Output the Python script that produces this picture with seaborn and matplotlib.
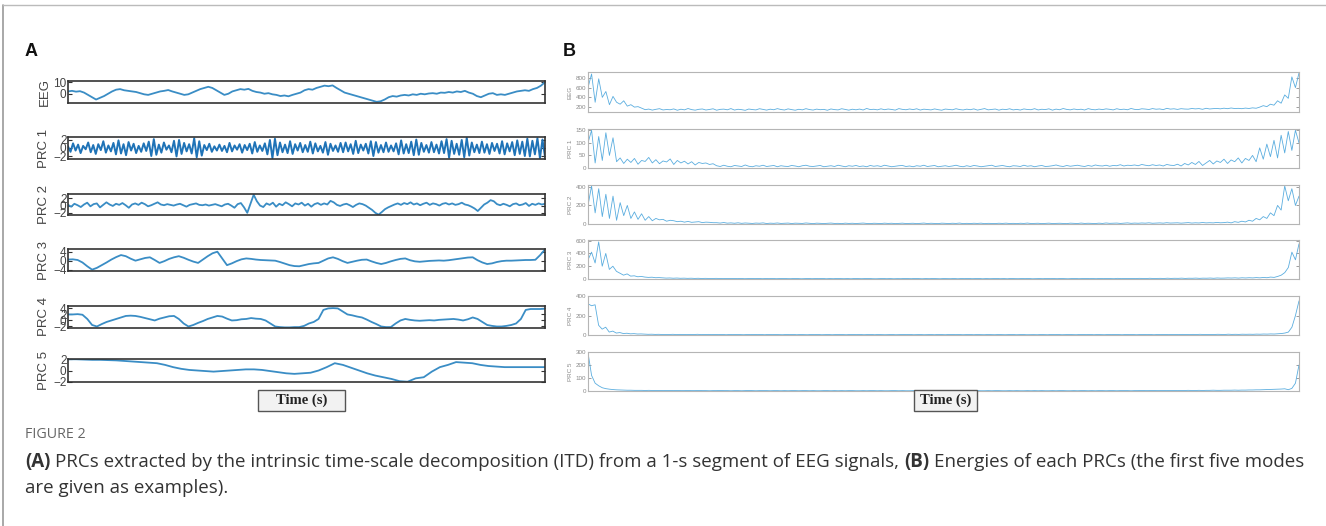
import numpy as np
import matplotlib
matplotlib.use("Agg")
import matplotlib.pyplot as plt
from matplotlib.lines import Line2D
from matplotlib.patches import Rectangle
import seaborn as sns

# ---- panel A: PRC signals ----
eeg_a = [2, 2.5, 1.8, 2.2, 1, -1, -3, -5,
         -3.5, -2, 0, 2, 3.5, 4,
         3, 2.5, 2, 1.5,
         0.5, -0.5, -1, 0,
         1, 2, 2.5, 3.2, 2, 1,
         0, -1, -0.5, 1,
         2.5, 4, 5, 6, 5, 3, 1,
         -1, 0, 2,
         3, 4, 3.5, 4.2, 2.5, 1.5,
         1, 0, 0.5, -0.5,
         -1, -2, -1.5, -2.2, -1, 0,
         1, 3, 4, 3.5, 5,
         6, 7, 6.5, 7.2,
         5, 3, 1, 0,
         -1, -2, -3, -4, -5, -6, -7, -6.5,
         -5, -3, -2, -2.5,
         -1.5, -1, -1.5, -0.5, -1, 0, -0.5, 0.2,
         0.5, 0, 1, 0.8, 1.5, 1, 2, 1.5, 2.5, 1,
         0, -2, -3, -1.5,
         0, 0.5, -1, -0.5,
         -1, 0, 1, 2,
         2.5, 3, 2.5, 4, 5, 7, 10]

prc1_a = [0.4, -0.9, 1.1, -0.6, 0.8, -1.2, 0.5, -0.3, 1.3, -1.0,
          0.7, -1.4, 0.9, -0.5, 1.6, -1.1, 0.6, -0.8, 1.2, -1.5,
          1.8, -1.3, 0.9, -1.7, 1.4, -0.6, 1.0, -1.2, 0.5, -0.9,
          1.1, -0.7, 1.5, -1.9, 2.1, -1.6, 0.8, -1.1, 1.3, -0.4,
          0.6, -1.0, 1.7, -2.0, 1.9, -1.4, 1.2, -0.8, 0.9, -1.3,
          2.3, -2.2, 1.6, -1.8, 0.7, -0.5, 1.0, -0.9, 0.4, -0.6,
          0.8, -0.7, 0.5, -1.0, 1.2, -0.8, 0.6, -0.4, 0.9, -1.1,
          0.7, -0.5, 1.0, -1.3, 1.4, -0.9, 0.6, -0.7, 1.1, -1.5,
          1.9, -2.4, 2.2, -1.7, 1.3, -1.0, 0.8, -1.2, 1.6, -1.4,
          0.9, -0.6, 1.2, -1.0, 0.7, -0.9, 1.5, -1.3, 1.1, -0.8,
          0.5, -1.1, 1.4, -1.6, 1.0, -0.7, 0.6, -0.9, 1.2, -1.0,
          1.3, -0.8, 0.9, -1.4, 1.7, -1.2, 0.8, -0.6, 1.0, -1.3,
          1.6, -1.9, 1.4, -1.1, 0.7, -1.0, 1.3, -0.9, 0.6, -0.8,
          1.1, -1.5, 1.8, -1.3, 0.9, -1.2, 1.5, -1.7, 2.0, -1.6,
          1.2, -0.9, 0.7, -1.1, 1.4, -1.0, 0.8, -1.3, 1.6, -1.2,
          2.1, -2.3, 1.7, -1.4, 1.0, -1.6, 1.9, -2.2, 2.4, -1.8,
          1.3, -1.0, 0.8, -1.2, 1.5, -1.1, 0.9, -1.4, 1.2, -0.7,
          1.0, -1.3, 1.6, -1.5, 1.1, -0.8, 1.4, -1.7, 1.8, -1.4,
          1.5, -1.9, 2.2, -2.0, 1.7, -1.5, 2.3, -2.4, 2.0, -2.1]

prc2_a = [0.2, -0.3, 0.5, 0.1, -0.4, 0.3, 0.8, -0.2, 0.4, 0.6,
          -0.5, 0.2, 0.9, 0.3, -0.1, 0.5, 0.2, 0.7, 0.1, -0.6,
          0.3, 0.6, 0.2, 0.8, 0.4, -0.2, 0.1, 0.5, 0.9, 0.3,
          0.1, 0.4, 0.2, 0.0, 0.3, 0.5, 0.1, -0.3, 0.2, 0.4,
          0.6, 0.2, 0.1, 0.3, 0.0, 0.2, 0.4, 0.1, -0.2, 0.3,
          0.5, 0.0, -0.6, 0.4, 0.7, -0.5, -2.0, 0.5, 3.0, 1.2,
          0.0, -0.4, 0.6, 0.2, 0.8, -0.3, 0.5, 0.1, 0.9, 0.4,
          -0.2, 0.6, 0.3, 0.8, 0.0, 0.5, -0.3, 0.4, 0.7, 0.2,
          0.6, 0.3, 1.3, 0.9, 0.2, -0.1, 0.3, 0.5, 0.1, -0.4,
          0.2, 0.6, 0.4, 0.0, -0.6, -1.2, -2.0, -2.5, -1.8, -1.0,
          -0.5, -0.1, 0.3, 0.6, 0.2, 0.7, 0.4, 0.9, 0.3, 0.6,
          0.1, 0.5, 0.8, 0.2, 0.6, 0.4, 0.0, 0.5, 0.7, 0.3,
          0.6, 0.2, 0.4, 0.8, 0.3, 0.1, -0.3, -0.8, -1.5, -0.6,
          0.3, 0.8, 1.5, 1.2, 0.4, 0.1, 0.5, 0.2, -0.2, 0.4,
          0.6, 0.1, 0.3, 0.7, -0.1, 0.5, 0.2, 0.6, 0.3, 0.5]

prc3_a = [0.5, 0.6, 0.3, -0.8, -2.5, -4.0, -3.2, -2.0, -0.8, 0.5,
          1.6, 2.5, 2.0, 0.9, 0.0, 0.6, 1.2, 1.5, 0.3, -1.0,
          -0.2, 0.8, 1.5, 2.0, 1.3, 0.4, -0.4, -1.0, 0.5, 2.0,
          3.3, 4.0, 1.0, -2.0, -1.2, -0.2, 0.6, 1.0, 0.8, 0.5,
          0.3, 0.2, 0.1, 0.0, -0.6, -1.3, -2.0, -2.4, -2.5, -2.0,
          -1.5, -1.2, -1.0, 0.0, 1.0, 1.5, 0.8, -0.2, -1.0, -0.5,
          0.0, 0.4, 0.5, -0.3, -1.0, -1.5, -1.0, -0.3, 0.3, 0.8,
          1.0, 0.2, -0.3, -0.5, -0.3, -0.1, 0.0, 0.1, 0.0, 0.2,
          0.5, 0.8, 1.1, 1.4, 1.5, 0.2, -0.8, -1.5, -1.2, -0.6,
          -0.2, 0.0, 0.0, 0.1, 0.2, 0.3, 0.3, 0.4, 2.5, 5.0]

prc4_a = [2.0, 2.0, 2.1, 1.9, 0.5, -1.5, -2.0, -1.2, -0.5, 0.0,
          0.5, 1.0, 1.5, 1.6, 1.5, 1.2, 0.8, 0.4, 0.0, 0.6,
          1.0, 1.4, 1.5, 0.5, -1.0, -2.0, -1.5, -0.8, -0.2, 0.5,
          1.0, 1.5, 1.3, 0.6, 0.0, 0.1, 0.4, 0.5, 0.8, 0.6,
          0.5, 0.0, -1.0, -2.0, -2.2, -2.3, -2.3, -2.2, -2.2, -1.8,
          -1.0, -0.5, 0.5, 3.5, 4.0, 4.1, 4.0, 3.0, 2.0, 1.7,
          1.3, 1.0, 0.3, -0.5, -1.2, -2.0, -2.2, -2.2, -1.0, 0.0,
          0.5, 0.2, 0.0, -0.1, 0.0, 0.1, 0.0, 0.2, 0.3, 0.4,
          0.5, 0.3, 0.0, 0.4, 1.0, 0.5, -0.5, -1.5, -1.8, -2.0,
          -2.0, -1.8, -1.5, -1.0, 0.5, 3.5, 3.8, 3.8, 3.8, 3.9]

prc5_a = [2.0, 2.0, 1.95, 1.9, 1.9, 1.85, 1.8, 1.7, 1.6, 1.5,
          1.4, 1.3, 1.0, 0.6, 0.3, 0.1, 0.0, -0.1, -0.2, -0.1,
          0.0, 0.1, 0.2, 0.2, 0.1, -0.1, -0.3, -0.5, -0.6, -0.5,
          -0.4, 0.0, 0.6, 1.3, 1.0, 0.5, 0.0, -0.5, -0.9, -1.2,
          -1.5, -1.9, -2.0, -1.4, -1.2, -0.2, 0.6, 1.0, 1.5, 1.4,
          1.3, 1.0, 0.8, 0.7, 0.6, 0.6, 0.6, 0.6, 0.6, 0.6]

# ---- panel B: energies, head / body / tail of each curve ----
eeg_b_head = [600, 880, 300, 780, 400]
eeg_b_decay = [520, 250, 420, 300, 260, 330, 220, 250, 200, 210, 180]
eeg_b_body = [148, 160, 139, 155, 168, 142, 151, 146, 163, 136,
              157, 144, 171, 149, 138, 155, 162, 141, 152, 166,
              137, 154, 159, 145, 170, 140, 156, 148, 135, 161,
              150, 143, 167, 153, 139, 158, 146, 169, 151, 141,
              164, 149, 137, 156, 144, 168, 150, 140, 159, 147,
              154, 136, 162, 149, 143, 167, 152, 138, 157, 145,
              160, 141, 172, 150, 156, 144, 165, 147, 161, 152,
              139, 169, 154, 146, 162, 149, 166, 140, 158, 151,
              143, 163, 148, 137, 160, 153, 145, 167, 150, 142,
              158, 147, 164, 139, 155, 170, 144, 152, 161, 138,
              157, 149, 166, 143, 154, 140, 163, 151, 147, 168,
              142, 156, 150, 165, 138, 159, 146, 171, 153, 144,
              162, 148, 157, 141, 169, 152, 145, 160, 149, 164,
              155, 143, 167, 150, 158, 146, 172, 154, 149, 166,
              160, 151, 170, 157, 163, 148, 175, 159, 166, 153,
              168, 161, 158, 172, 164, 170, 155, 176, 162, 169,
              173, 165, 178, 168, 182, 171, 175, 168, 180, 172,
              185, 177]
eeg_b_tail = [200, 230, 210, 260, 240, 330, 280, 450, 380, 820, 600, 900]

prc1_b_head = [100, 150, 20, 125, 30, 140, 50, 120]
prc1_b_mid = [25, 40, 18, 35, 22, 38, 15, 30, 26, 42, 20, 33, 17, 28,
              24, 36, 14, 30, 20, 27, 16, 25, 12, 22, 18, 20, 14, 17]
prc1_b_body = [9, 6, 11, 7, 5, 10, 8, 6, 12, 7,
               5, 9, 7, 11, 6, 8, 10, 5, 9, 7,
               6, 10, 8, 5, 9, 11, 7, 6, 8, 10,
               5, 7, 9, 6, 11, 8, 5, 9, 7, 10,
               6, 8, 5, 10, 7, 9, 6, 11, 8, 5,
               7, 9, 10, 6, 8, 5, 9, 7, 11, 6,
               8, 10, 5, 7, 9, 6, 8, 11, 7, 5,
               9, 6, 10, 8, 5, 7, 9, 11, 6, 8,
               10, 7, 5, 9, 8, 6, 11, 7, 9, 5,
               8, 10, 6, 7, 9, 12, 8, 6, 10, 7,
               9, 11, 8, 6, 10, 7, 12, 9, 8, 11,
               7, 10, 9, 13, 8, 11, 10, 12, 9, 14,
               11, 9, 13, 10, 12, 8, 14, 11]
prc1_b_rise = [10, 15, 8, 18, 12, 22, 14, 26, 10, 20, 30,
               16, 28, 22, 35, 18, 32, 25, 40, 20, 38, 30]
prc1_b_tail = [50, 25, 80, 35, 95, 45, 110, 40, 130, 60, 145, 70, 150, 100]

prc2_b_head = [200, 410, 120, 380, 80, 320, 60, 300, 40, 230, 90, 200]
prc2_b_decay = [60, 130, 50, 110, 40, 80, 35, 60, 45, 50, 30, 40,
                35, 25, 30, 20, 28, 18, 22, 25, 15, 20, 18, 14]
prc2_b_body = [14, 10, 16, 9, 12, 8, 13, 7, 11, 9,
               6, 10, 8, 12, 5, 9, 7, 11, 6, 8,
               10, 5, 9, 7, 6, 11, 8, 4, 9, 7,
               5, 8, 10, 6, 7, 4, 9, 6, 8, 5,
               7, 10, 6, 4, 8, 7, 5, 9, 6, 8,
               4, 7, 9, 5, 6, 8, 4, 7, 10, 5,
               8, 6, 4, 9, 7, 5, 8, 6, 10, 4,
               7, 5, 8, 6, 9, 4, 7, 6, 5, 8,
               6, 9, 5, 7, 4, 8, 6, 10, 5, 7,
               8, 4, 6, 9, 5, 7, 8, 6, 4, 9,
               7, 5, 10, 6, 8, 7, 5, 9, 6, 11,
               7, 8, 10, 6, 9, 12, 7, 10, 8, 11,
               9, 13, 8, 10, 12, 9, 14, 10, 11, 13,
               9, 12, 15, 10, 13, 11, 16, 12, 14, 12,
               17, 13]
prc2_b_tail = [15, 20, 12, 25, 18, 30, 22, 40, 30, 60, 45,
               80, 60, 120, 90, 200, 150, 410, 250, 380, 200, 300]

prc3_b_head = [300, 420, 250, 580, 200, 400]
prc3_b_decay = [150, 200, 120, 90, 60, 80, 45, 50, 35, 40, 30, 25, 28, 20, 22]
prc3_b_body = [18, 14, 16, 12, 15, 11, 13, 10, 12, 9,
               11, 8, 10, 9, 7, 10, 8, 6, 9, 7,
               8, 6, 9, 5, 7, 8, 6, 9, 5, 7,
               6, 8, 5, 7, 9, 6, 5, 8, 7, 4,
               6, 8, 5, 7, 6, 9, 4, 7, 5, 8,
               6, 5, 7, 4, 8, 6, 5, 7, 9, 5,
               4, 6, 8, 5, 7, 4, 6, 5, 8, 7,
               5, 9, 6, 4, 7, 5, 8, 6, 4, 7,
               6, 5, 8, 4, 7, 6, 9, 5, 6, 8,
               4, 7, 5, 6, 8, 5, 7, 4, 9, 6,
               5, 7, 6, 8, 4, 6, 7, 5, 9, 6,
               7, 5, 8, 6, 4, 7, 9, 5, 6, 8,
               6, 7, 5, 9, 6, 8, 7, 5, 10, 6,
               8, 7, 9, 6, 10, 8, 7, 11, 8, 9,
               10, 8, 12, 9, 11, 10, 13, 9, 12, 11,
               14, 10, 13, 12, 15, 11, 16, 13, 14, 17,
               15, 18, 14, 19, 16, 20, 17, 22, 18, 24]
prc3_b_tail = [20, 30, 25, 40, 60, 100, 180, 420, 300, 550]

prc4_b_head = [320, 300, 310, 100]
prc4_b_decay = [60, 80, 30, 40, 20, 25, 15, 18, 12, 14, 10, 11]
prc4_b_body = [9, 7, 8, 6, 7, 5, 6, 5, 7, 4,
               6, 5, 4, 6, 5, 7, 4, 5, 6, 4,
               5, 4, 6, 3, 5, 4, 6, 5, 3, 5,
               4, 6, 4, 5, 3, 6, 4, 5, 4, 3,
               5, 4, 6, 3, 5, 4, 3, 5, 4, 6,
               3, 4, 5, 3, 4, 6, 4, 3, 5, 4,
               4, 5, 3, 4, 6, 3, 5, 4, 3, 4,
               5, 3, 4, 5, 4, 6, 3, 4, 5, 3,
               4, 5, 3, 6, 4, 3, 5, 4, 4, 5,
               3, 4, 6, 3, 5, 4, 3, 5, 4, 3,
               5, 4, 3, 4, 6, 3, 4, 5, 3, 4,
               4, 3, 5, 4, 3, 6, 4, 5, 3, 4,
               5, 4, 3, 5, 4, 4, 6, 3, 5, 4,
               3, 5, 4, 6, 4, 3, 5, 4, 5, 3,
               4, 6, 4, 5, 3, 5, 4, 6, 4, 5,
               5, 4, 6, 5, 4, 6, 5, 7, 5, 6,
               6, 5, 7, 6, 5, 8, 6, 7, 6, 8,
               7, 8, 7, 9, 8, 10, 9, 11, 10, 12]
prc4_b_tail = [15, 20, 30, 80, 200, 350]

prc5_b_head = [295, 120, 60, 40, 25, 18, 14, 11, 9, 8]
prc5_b_body = [7, 6, 6, 5, 5, 5, 4, 5, 4, 4,
               4, 3, 4, 4, 3, 4, 3, 3, 4, 3,
               3, 4, 3, 3, 2, 3, 3, 4, 3, 3,
               2, 3, 3, 2, 3, 4, 3, 2, 3, 3,
               3, 2, 3, 3, 2, 3, 2, 3, 3, 2,
               3, 3, 2, 3, 2, 2, 3, 3, 2, 3,
               2, 3, 2, 3, 3, 2, 2, 3, 2, 3,
               3, 2, 3, 2, 2, 3, 3, 2, 3, 2,
               2, 3, 2, 2, 3, 2, 3, 3, 2, 2,
               3, 2, 3, 2, 3, 2, 2, 3, 2, 3,
               2, 2, 3, 2, 3, 3, 2, 2, 3, 2,
               3, 2, 2, 3, 2, 3, 2, 3, 2, 2,
               3, 2, 3, 3, 2, 2, 3, 2, 3, 3,
               2, 3, 2, 3, 3, 2, 3, 3, 2, 3,
               3, 3, 2, 3, 3, 4, 3, 3, 4, 3,
               3, 4, 3, 4, 4, 3, 4, 4, 5, 4,
               4, 5, 4, 5, 5, 6, 5, 5, 6, 6,
               6, 7, 6, 7, 7, 8, 8, 9, 9, 10,
               11, 12, 13, 14, 15, 17]
prc5_b_tail = [10, 20, 60, 200]

labels = ["EEG", "PRC 1", "PRC 2", "PRC 3", "PRC 4", "PRC 5"]

a_traces = [eeg_a, prc1_a, prc2_a, prc3_a, prc4_a, prc5_a]
a_ylims = [(-8, 11), (-2.6, 2.6), (-2.6, 3.2), (-4.6, 5.2), (-2.5, 4.8), (-2.05, 2.05)]
a_ticks = [[0, 10], [-2, 0, 2], [-2, 0, 2], [-4, 0, 4], [-2, 0, 2, 4], [-2, 0, 2]]

b_traces = [eeg_b_head + eeg_b_decay + eeg_b_body + eeg_b_tail,
            prc1_b_head + prc1_b_mid + prc1_b_body + prc1_b_rise + prc1_b_tail,
            prc2_b_head + prc2_b_decay + prc2_b_body + prc2_b_tail,
            prc3_b_head + prc3_b_decay + prc3_b_body + prc3_b_tail,
            prc4_b_head + prc4_b_decay + prc4_b_body + prc4_b_tail,
            prc5_b_head + prc5_b_body + prc5_b_tail]
b_ylims = [(100, 920), (0, 155), (0, 420), (0, 610), (0, 400), (0, 300)]
b_ticks = [[200, 400, 600, 800], [0, 50, 100, 150], [0, 200, 400],
           [0, 200, 400, 600], [0, 200, 400], [0, 100, 200, 300]]

# ---- figure ----
sns.set_theme(style="white")
plt.rcParams['font.family'] = ['Liberation Sans', 'DejaVu Sans']

W, H = 1326, 526
fig = plt.figure(figsize=(W / 100, H / 100), dpi=100)
fig.patch.set_facecolor("white")


def px_box(x0, y0, x1, y1):
    return [x0 / W, 1 - y1 / H, (x1 - x0) / W, (y1 - y0) / H]


a_rows = [(81, 103), (137, 159), (194, 215), (249, 271), (306, 328), (359, 382)]
b_rows = [(72, 112), (129, 168), (185, 224), (240, 279), (296, 335), (352, 391)]

for i, vals in enumerate(a_traces):
    ax = fig.add_axes(px_box(68, a_rows[i][0], 545, a_rows[i][1]))
    sns.lineplot(x=np.arange(len(vals)), y=vals, ax=ax,
                 color="#1f73b7" if i == 1 else "#3a8dc5",
                 lw=1.4 if i == 1 else 1.3)
    ax.set_xlim(0, len(vals) - 1)
    ax.set_ylim(*a_ylims[i])
    ax.set_yticks(a_ticks[i])
    ax.set_xticks([])
    ax.tick_params(axis="y", direction="in", length=3, width=0.8, labelsize=8.5,
                   pad=1, left=True, right=True, colors="#333", labelcolor="#444")
    for s in ax.spines.values():
        s.set_color("#333")
        s.set_linewidth(1.2)
    ax.set_ylabel(labels[i], fontsize=9.5, labelpad=2, color="#444")

for i, vals in enumerate(b_traces):
    ax = fig.add_axes(px_box(588, b_rows[i][0], 1299, b_rows[i][1]))
    sns.lineplot(x=np.arange(len(vals)), y=vals, ax=ax, color="#5aaddf", lw=0.6)
    ax.set_xlim(0, len(vals) - 1)
    ax.set_ylim(*b_ylims[i])
    ax.set_yticks(b_ticks[i])
    ax.set_xticks([])
    ax.tick_params(axis="y", direction="in", length=2, width=0.5, labelsize=4.5,
                   pad=1.5, left=True, right=True, colors="#777", labelcolor="#888")
    for s in ax.spines.values():
        s.set_color("#b5b5b5")
        s.set_linewidth(0.8)
    ax.set_ylabel(labels[i], fontsize=4.5, labelpad=2, color="#888")

# Time (s) boxes
for x0, x1 in [(258, 345), (914, 977)]:
    fig.add_artist(Rectangle((x0 / W, 1 - 411 / H), (x1 - x0) / W, 21 / H,
                             transform=fig.transFigure, fc="#f2f2f2", ec="#555", lw=1))
    fig.text((x0 + x1) / 2 / W, 1 - 400.5 / H, "Time (s)", ha="center", va="center",
             family=["Liberation Serif", "DejaVu Serif"], weight="bold",
             fontsize=10.5, color="#222")

# panel letters
fig.text(25 / W, 1 - 51 / H, "A", weight="bold", fontsize=13, va="center", color="#111")
fig.text(563 / W, 1 - 51 / H, "B", weight="bold", fontsize=13, va="center", color="#111")

# card border
fig.add_artist(Line2D([3 / W, 3 / W], [0, 1 - 5 / H], transform=fig.transFigure,
                      color="#9a9a9a", lw=1.2))
fig.add_artist(Line2D([3 / W, 1], [1 - 5 / H, 1 - 5 / H], transform=fig.transFigure,
                      color="#bbbbbb", lw=1.0))

# caption
cap_font = ["Open Sans", "DejaVu Sans"]
fig.text(25 / W, 1 - 435 / H, "FIGURE 2", fontsize=10.3, color="#666",
         family=cap_font, va="center")

renderer = fig.canvas.get_renderer()


def rich_line(x_px, y_px, parts, size):
    x = x_px / W
    gap = size * 0.26 / 72 * 100 / W
    for txt, bold in parts:
        t = fig.text(x, 1 - y_px / H, txt, fontsize=size, family=cap_font,
                     weight="bold" if bold else "normal", color="#333", va="center")
        x += t.get_window_extent(renderer=renderer).width / W + gap


rich_line(25, 462, [("(A)", True),
                    ("PRCs extracted by the intrinsic time-scale decomposition (ITD) from a 1-s segment of EEG signals,", False),
                    ("(B)", True),
                    ("Energies of each PRCs (the first five modes", False)], 13.5)
rich_line(25, 488, [("are given as examples).", False)], 13.5)

fig.savefig("out.png", dpi=100)
